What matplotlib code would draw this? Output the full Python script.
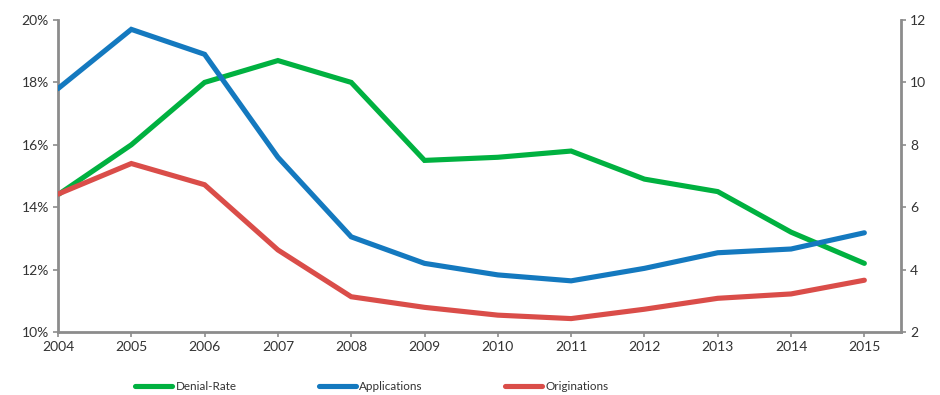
import matplotlib
matplotlib.use("Agg")
import matplotlib.pyplot as plt
from matplotlib.ticker import FuncFormatter

plt.rcParams['font.family'] = ['Lato', 'DejaVu Sans']

years = [2004, 2005, 2006, 2007, 2008, 2009, 2010, 2011, 2012, 2013, 2014, 2015]
denial_rate = [14.4, 16.0, 18.0, 18.7, 18.0, 15.5, 15.6, 15.8, 14.9, 14.5, 13.2, 12.2]
applications = [9.8, 11.7, 10.9, 7.6, 5.05, 4.2, 3.83, 3.64, 4.04, 4.54, 4.66, 5.18]
originations = [6.42, 7.4, 6.72, 4.63, 3.13, 2.79, 2.54, 2.43, 2.73, 3.08, 3.22, 3.66]

left_ticks = [10, 12, 14, 16, 18, 20]
right_ticks = [2, 4, 6, 8, 10, 12]

GREEN = '#00B140'
BLUE = '#1479BF'
RED = '#DA4D49'
AXIS = '#8C8C8C'
TEXT = '#333333'

fig = plt.figure(figsize=(9.4, 3.95), dpi=100)
ax = fig.add_axes([58 / 940, 1 - 332 / 395, (901 - 58) / 940, (332 - 20) / 395])
ax2 = ax.twinx()

lw = 3.7
l1, = ax.plot(years, denial_rate, color=GREEN, lw=lw, solid_joinstyle='miter', solid_capstyle='round', label='Denial-Rate')
l2, = ax2.plot(years, applications, color=BLUE, lw=lw, solid_joinstyle='miter', solid_capstyle='round', label='Applications')
l3, = ax2.plot(years, originations, color=RED, lw=lw, solid_joinstyle='miter', solid_capstyle='round', label='Originations')

ax.set_xlim(2004, 2015.5)
ax.set_ylim(10, 20)
ax2.set_ylim(2, 12)
ax.set_xticks(years)
ax.set_yticks(left_ticks)
ax2.set_yticks(right_ticks)
ax.yaxis.set_major_formatter(FuncFormatter(lambda v, p: f'{v:.0f}%'))

for a in (ax, ax2):
    a.spines['top'].set_visible(False)
    for s in ('left', 'right', 'bottom'):
        a.spines[s].set_color(AXIS)
        a.spines[s].set_linewidth(2)
    a.tick_params(colors=AXIS, labelcolor=TEXT, labelsize=10, width=1.2, length=3.5, direction='out', pad=3)
ax.spines['right'].set_visible(False)
ax2.spines['left'].set_visible(False)
ax2.spines['bottom'].set_visible(False)

fig.legend(handles=[l1, l2, l3], loc='center left', bbox_to_anchor=(135 / 940, 1 - 387 / 395),
           ncol=3, frameon=False, fontsize=8.4, handlelength=3.2, handletextpad=0.3,
           columnspacing=7.0, borderpad=0, borderaxespad=0, labelcolor=TEXT)

fig.savefig('out.png', dpi=100)
